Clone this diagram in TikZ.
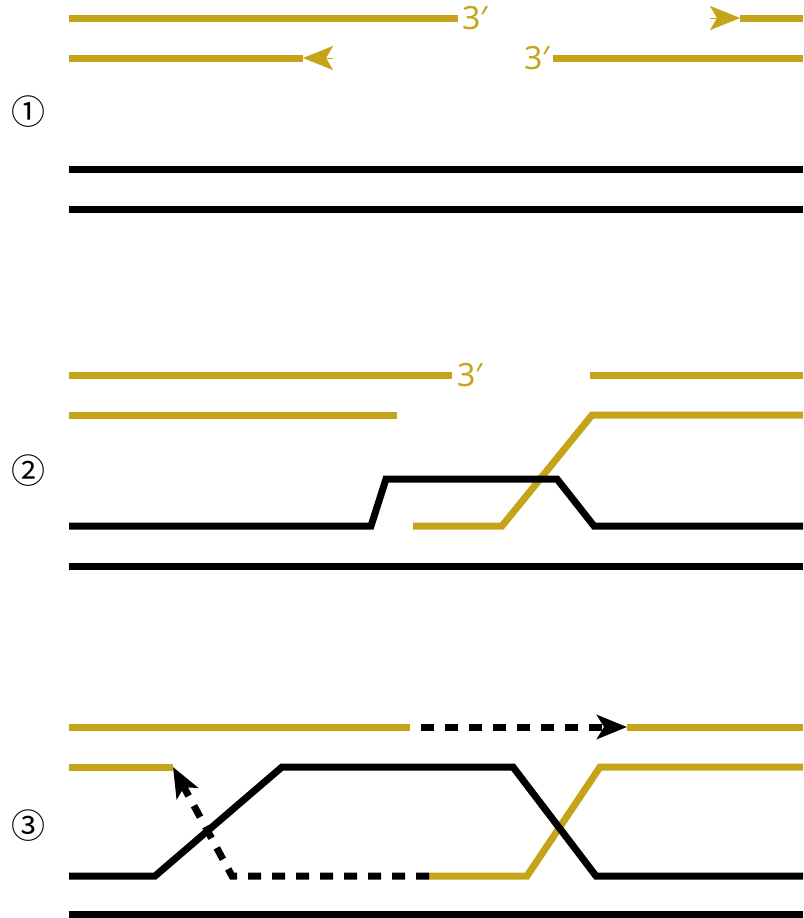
\documentclass[tikz,border=0pt]{standalone}
\usepackage{fontspec}
\setsansfont{Noto Sans}
\newfontfamily\circfont{Noto Sans CJK SC}
\usetikzlibrary{arrows.meta,positioning}
\definecolor{primer}{HTML}{C6A41A}

\begin{document}
\begin{tikzpicture}[x=1pt,y=-1pt,
    strand/.style={line width=7pt},
    gold/.style={strand,primer},
    dna/.style={strand,black},
    newdna/.style={strand,black,dash pattern=on 13pt off 11pt},
    tip/.style={-{Stealth[length=30pt,width=24pt,inset=7pt]}},
    head/.style={primer,line width=0.1pt,tip},
    lbl/.style={primer,font=\sffamily\fontsize{32}{34}\selectfont,inner sep=0pt},
    num/.style={font=\circfont\fontsize{34}{38}\selectfont,inner sep=0pt}]
  \useasboundingbox (0,0) rectangle (803,918);

  % step 1
  \node[num] (n1) at (28,112) {①};
  \coordinate (a1) at (69,18);   \coordinate (a2) at (458,18);
  \coordinate (a3) at (740,18);  \coordinate (a4) at (803,18);
  \coordinate (a5) at (710,18);
  \coordinate (b1) at (69,58);   \coordinate (b2) at (303,58);
  \coordinate (b3) at (333,58);  \coordinate (b4) at (553,58);
  \coordinate (b5) at (803,58);
  \node[lbl, right=4pt of a2] (p1) {3′};
  \node[lbl, left=3pt of b4]  (p2) {3′};
  \draw[gold] (a1) -- (a2);
  \draw[gold] (a3) -- (a4);
  \draw[head] (a5) -- (a3);
  \draw[gold] (b1) -- (b2);
  \draw[head] (b3) -- (b2);
  \draw[gold] (b4) -- (b5);
  \draw[dna] (69,169) -- (803,169);
  \draw[dna] (69,209) -- (803,209);

  % step 2
  \node[num] (n2) at (28,471) {②};
  \coordinate (c1) at (69,375);  \coordinate (c2) at (452,375);
  \coordinate (c3) at (590,375); \coordinate (c4) at (803,375);
  \node[lbl, right=5pt of c2] (p3) {3′};
  \draw[gold] (c1) -- (c2);
  \draw[gold] (c3) -- (c4);
  \draw[gold] (69,415) -- (397,415);
  \draw[gold] (413,526) -- (502,526) -- (592,415) -- (803,415);
  \draw[dna] (69,526) -- (371,526) -- (386,479) -- (557,479) -- (594,526) -- (803,526);
  \draw[dna] (69,566) -- (803,566);

  % step 3
  \node[num] (n3) at (28,826) {③};
  \coordinate (d1) at (69,727);  \coordinate (d2) at (410,727);
  \coordinate (d3) at (421,727); \coordinate (d4) at (627,727);
  \coordinate (d5) at (803,727);
  \coordinate (e1) at (69,767);  \coordinate (e2) at (173,767);
  \coordinate (f1) at (429,876); \coordinate (f2) at (232,876);
  \draw[gold] (d1) -- (d2);
  \draw[gold] (d4) -- (d5);
  \draw[gold] (e1) -- (e2);
  \draw[gold] (f1) -- (527,876) -- (600,767) -- (803,767);
  \draw[dna] (69,876) -- (155,876) -- (282,767) -- (513,767) -- (596,876) -- (803,876);
  \draw[dna] (69,914) -- (803,914);
  \draw[newdna,tip] (d3) -- (d4);
  \draw[newdna,tip] (f1) -- (f2) -- (e2);
\end{tikzpicture}
\end{document}
